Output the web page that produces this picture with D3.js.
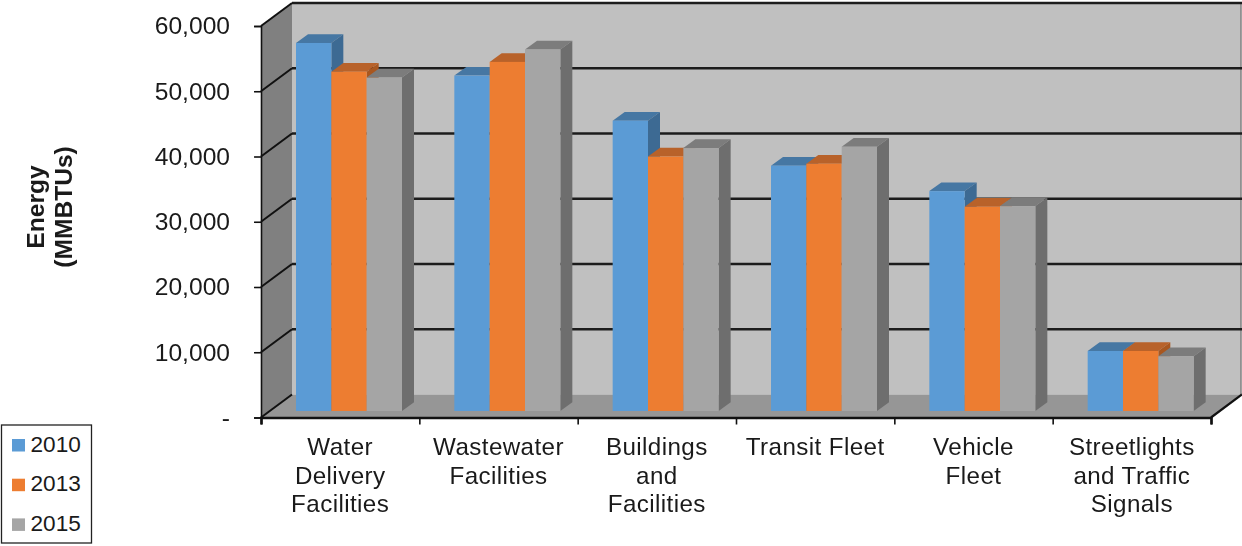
<!DOCTYPE html>
<html><head><meta charset="utf-8">
<script src="https://cdn.jsdelivr.net/npm/d3@7"></script>
<style>html,body{margin:0;padding:0;background:#fff}svg{display:block;filter:blur(0.5px)}text{font-family:"Liberation Sans",Arial,sans-serif;fill:#1a1a1a}</style>
</head><body><svg id="c" width="1242" height="546"></svg>
<script>
const categories = [["Water","Delivery","Facilities"],["Wastewater","Facilities"],["Buildings","and","Facilities"],["Transit Fleet"],["Vehicle","Fleet"],["Streetlights","and Traffic","Signals"]];
const series = ["2010","2013","2015"];
const values2010 = [56400,51400,44500,37600,33700,9200];
const values2013 = [52000,53500,39000,37900,31300,9200];
const values2015 = [51100,55400,40300,40500,31400,8400];
const yTicks = [0,10000,20000,30000,40000,50000,60000];
const colors = {"2010":["#5B9BD5","#4677A3","#3D6A93"],"2013":["#ED7D31","#B8622A","#A9571F"],"2015":["#A5A5A5","#7C7C7C","#6E6E6E"]};
const allValues = {"2010":values2010,"2013":values2013,"2015":values2015};

const svg = d3.select("#c");
const W = {l:261,r:1211,b:417.5,t:26,dx:31,dy:-23};
const x0 = d3.scaleBand().domain(d3.range(categories.length)).range([W.l,W.r]);
const x1 = d3.scaleBand().domain(series).range([35,141]);
const yF = d3.scaleLinear().domain([0,60000]).range([W.b,W.t]);
const yB = d3.scaleLinear().domain([0,60000]).range([W.b+W.dy,W.t+W.dy]);
const yBar = d3.scaleLinear().domain([0,60000]).range([411,19.5]);
const poly = pts => pts.map(p=>p.join(",")).join(" ");

// walls
svg.append("polygon").attr("fill","#C0C0C0").attr("points",poly([[W.l+W.dx,yB(0)],[W.r+W.dx-1,yB(0)],[W.r+W.dx-1,yB(60000)],[W.l+W.dx,yB(60000)]]));
svg.append("polygon").attr("fill","#808080").attr("points",poly([[W.l,yF(0)],[W.l+W.dx,yB(0)],[W.l+W.dx,yB(60000)],[W.l,yF(60000)]]));
svg.append("polygon").attr("fill","#969696").attr("points",poly([[W.l,yF(0)],[W.r,yF(0)],[W.r+W.dx,yB(0)],[W.l+W.dx,yB(0)]]));
svg.append("line").attr("x1",W.r+W.dx-1).attr("x2",W.r+W.dx-1).attr("y1",yB(60000)).attr("y2",yB(0)).attr("stroke","#808080").attr("stroke-width",1.5);

// grid
yTicks.forEach(v=>{
  if(v>0) svg.append("line").attr("x1",W.l+W.dx).attr("x2",W.r+W.dx).attr("y1",yB(v)).attr("y2",yB(v)).attr("stroke","#1c1c1c").attr("stroke-width",2.6);
  svg.append("line").attr("x1",W.l).attr("x2",W.l+W.dx).attr("y1",yF(v)).attr("y2",yB(v)).attr("stroke","#111").attr("stroke-width",2);
});
svg.append("line").attr("x1",W.r).attr("x2",W.r+W.dx).attr("y1",yF(0)).attr("y2",yB(0)).attr("stroke","#111").attr("stroke-width",2.2);

// bars
const D = {x:12,y:-8.7};
categories.forEach((c,i)=>{
  series.forEach(s=>{
    const x = x0(i)+x1(s), w = x1.bandwidth(), y = yBar(allValues[s][i]), b = yBar(0), col = colors[s];
    const g = svg.append("g");
    g.append("polygon").attr("fill",col[1]).attr("points",poly([[x,y],[x+w,y],[x+w+D.x,y+D.y],[x+D.x,y+D.y]]));
    g.append("polygon").attr("fill",col[2]).attr("points",poly([[x+w,y],[x+w+D.x,y+D.y],[x+w+D.x,b+D.y],[x+w,b]]));
    g.append("rect").attr("x",x).attr("y",y).attr("width",w).attr("height",b-y).attr("fill",col[0]);
  });
});

// y axis
const yAxis = d3.axisLeft(yF).tickValues(yTicks).tickSize(7).tickPadding(24)
  .tickFormat(v=>v===0?"-":d3.format(",")(v));
const gy = svg.append("g").attr("transform",`translate(${W.l},0)`).call(yAxis);
gy.selectAll("path,line").attr("stroke","#111").attr("stroke-width",1.6);
gy.selectAll("text").attr("font-size",24.6).style("font-family",'"Liberation Sans",Arial,sans-serif').attr("fill","#1a1a1a");

// x axis (ticks on category boundaries)
const xEdge = d3.scaleLinear().domain([0,categories.length]).range([W.l,W.r]);
const xAxis = d3.axisBottom(xEdge).ticks(categories.length).tickSize(7).tickFormat("");
const gx = svg.append("g").attr("transform",`translate(0,${W.b})`).call(xAxis);
gx.selectAll("path,line").attr("stroke","#111").attr("stroke-width",1.6);
gx.select("path").attr("stroke-width",2.6);

// category labels
categories.forEach((lines,i)=>{
  const t = svg.append("text").attr("text-anchor","middle").attr("font-size",24.2).attr("letter-spacing",0.4);
  lines.forEach((l,k)=>t.append("tspan").attr("x",x0(i)+x0.bandwidth()/2).attr("y",455+k*28.7).text(l));
});

// y title
const title = svg.append("text").attr("transform","translate(44,207) rotate(-90)").attr("text-anchor","middle").attr("font-size",24.6).attr("font-weight","bold");
title.append("tspan").attr("x",0).attr("y",0).text("Energy");
title.append("tspan").attr("x",0).attr("y",28).text("(MMBTUs)");

// legend
svg.append("rect").attr("x",1.5).attr("y",425).attr("width",90).attr("height",118).attr("fill","#fff").attr("stroke","#222").attr("stroke-width",1.3);
series.forEach((s,i)=>{
  const cy = 445+i*39.7;
  svg.append("rect").attr("x",12).attr("y",cy-6).attr("width",13).attr("height",12.5).attr("fill",colors[s][0]);
  svg.append("text").attr("x",30.5).attr("y",cy+6.5).attr("font-size",22.6).text(s);
});
</script></body></html>
